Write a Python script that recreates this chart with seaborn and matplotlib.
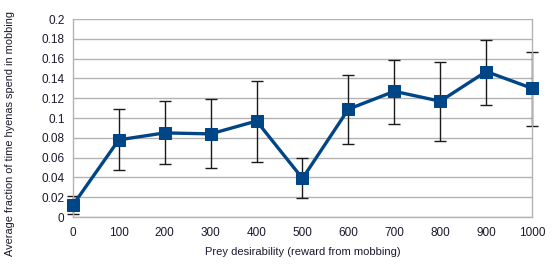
import pandas as pd
import seaborn as sns
import matplotlib.pyplot as plt

# Data
desirability = [0, 100, 200, 300, 400, 500, 600, 700, 800, 900, 1000]
fraction = [0.012, 0.078, 0.085, 0.084, 0.097, 0.039, 0.109, 0.127, 0.117, 0.147, 0.130]
err_upper = [0.021, 0.109, 0.117, 0.119, 0.137, 0.060, 0.143, 0.159, 0.157, 0.179, 0.167]
err_lower = [0.003, 0.048, 0.054, 0.050, 0.056, 0.019, 0.074, 0.094, 0.077, 0.113, 0.092]

df = pd.DataFrame({"x": desirability, "y": fraction, "hi": err_upper, "lo": err_lower})

sns.set_theme(style="whitegrid")
plt.rcParams['font.family'] = ['Liberation Sans', 'DejaVu Sans']

fig = plt.figure(figsize=(5.52, 2.72), dpi=100)
ax = fig.add_axes([0.132, 0.202, 0.832, 0.728])

eb = ax.errorbar(df.x, df.y, yerr=[df.y - df.lo, df.hi - df.y], fmt='none',
                 ecolor='#1a1a1a', elinewidth=1, capsize=4, capthick=1, zorder=2)
for part in eb.lines[1] + eb.lines[2]:
    part.set_clip_on(False)
sns.lineplot(data=df, x="x", y="y", ax=ax, color='#004586', linewidth=2.4,
             marker='s', markersize=8.5, markeredgecolor='#004586', zorder=3,
             clip_on=False)

ax.set_xlim(0, 1000)
ax.set_ylim(0, 0.2)
ax.set_xticks(desirability)
ax.set_xticklabels([str(v) for v in desirability])
yt = [i / 100 for i in range(0, 21, 2)]
ax.set_yticks(yt)
ax.set_yticklabels(['0' if v == 0 else ('%g' % v) for v in yt])
ax.grid(axis='x', visible=False)
ax.grid(axis='y', color='#b3b3b3', linewidth=1)
for s in ax.spines.values():
    s.set_color('#b3b3b3')
    s.set_linewidth(1)
ax.spines['top'].set_visible(False)

ax.tick_params(axis='both', labelsize=8.5, colors='#b3b3b3', labelcolor='#1a1a2e', length=4, width=1)
ax.tick_params(axis='y', length=4, pad=2)
ax.tick_params(axis='x', pad=3)
ax.set_xlabel("Prey desirability (reward from mobbing)", fontsize=8, color='#1a1a2e', labelpad=6)
ax.set_ylabel("Average fraction of time hyenas spend in mobbing", fontsize=7.9, color='#1a1a2e', labelpad=8)
ax.yaxis.set_label_coords(-0.125, 0.42)

fig.savefig('out.png', dpi=100)
plt.close()
